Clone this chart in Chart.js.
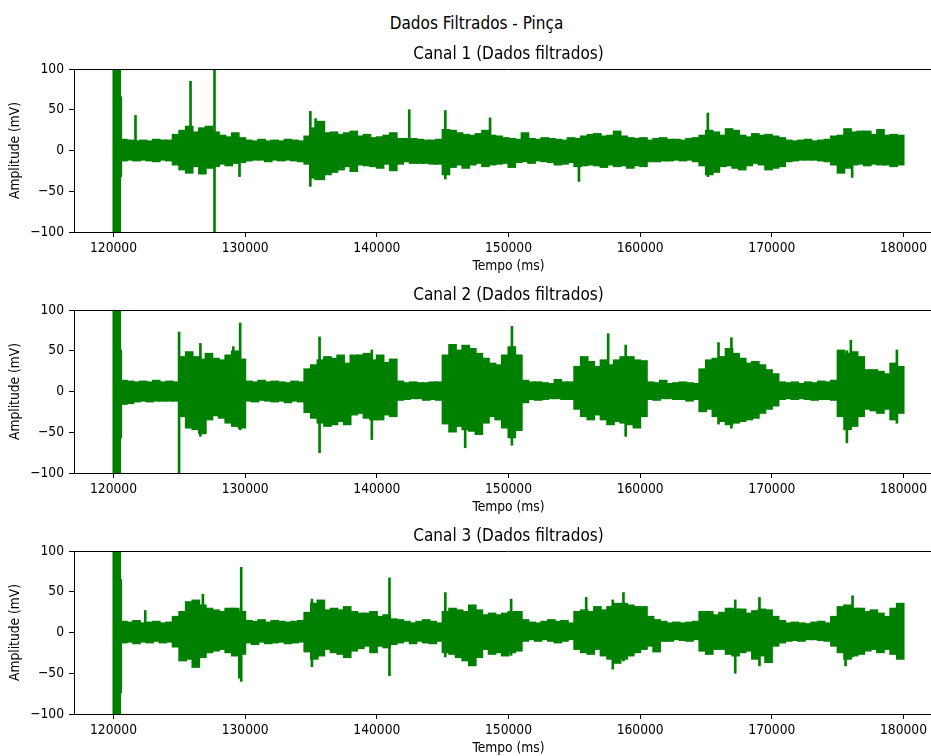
<!DOCTYPE html>
<html lang="pt">
<head>
<meta charset="UTF-8">
<title>Dados Filtrados - Pinça</title>
<script src="https://cdn.jsdelivr.net/npm/chart.js@4.4.0/dist/chart.umd.min.js"></script>
<style>
  html, body { margin: 0; padding: 0; background: #fff; overflow: hidden; }
  #wrap { position: relative; width: 931px; height: 756px; overflow: hidden; }
  #sup { position: absolute; left: 0; top: 13px; width: 953px; text-align: center;
         font: 17px "DejaVu Sans Condensed", "DejaVu Sans"; line-height: 20px; color: #000; }
  canvas { position: absolute; left: 0; }
</style>
</head>
<body>
<div id="wrap">
  <div id="sup">Dados Filtrados - Pinça</div>
  <canvas id="c1" width="943" height="236" style="top:44px"></canvas>
  <canvas id="c2" width="943" height="236" style="top:285px"></canvas>
  <canvas id="c3" width="943" height="236" style="top:526px"></canvas>
</div>
<script>
// envelope of each channel, one max/min pair per 500 ms bin (120000 .. 180000 ms)
var startMs = 120000, binMs = 500;

var ch1Hi = [
  100, 14, 13, 12, 13, 12, 14, 13, 13, 20,
  25, 30, 23, 28, 30, 23, 19, 17, 22, 16,
  13, 12, 14, 12, 13, 12, 14, 13, 12, 18,
  28, 36, 22, 23, 20, 22, 24, 18, 20, 16,
  17, 19, 22, 15, 15, 15, 14, 13, 13, 14,
  26, 25, 22, 20, 19, 21, 25, 19, 18, 16,
  15, 14, 22, 15, 14, 16, 15, 14, 13, 16,
  15, 18, 20, 21, 18, 19, 24, 18, 16, 15,
  16, 13, 15, 16, 14, 14, 13, 15, 16, 19,
  25, 23, 19, 27, 25, 19, 17, 21, 19, 20,
  18, 16, 13, 12, 13, 14, 12, 13, 14, 18,
  19, 27, 23, 24, 24, 20, 26, 19, 20, 19];
var ch1Lo = [
  -100, -13, -12, -13, -12, -13, -14, -12, -13, -18,
  -24, -28, -20, -29, -22, -20, -17, -19, -16, -15,
  -13, -12, -12, -14, -12, -13, -12, -13, -14, -17,
  -34, -36, -30, -27, -24, -20, -26, -18, -19, -20,
  -22, -17, -25, -17, -14, -16, -16, -16, -17, -17,
  -30, -21, -18, -22, -18, -16, -20, -18, -17, -16,
  -21, -15, -14, -16, -13, -14, -15, -18, -17, -15,
  -20, -19, -18, -19, -21, -18, -20, -19, -22, -19,
  -20, -14, -14, -13, -13, -12, -13, -12, -14, -19,
  -30, -27, -20, -19, -22, -24, -19, -16, -18, -24,
  -22, -20, -14, -13, -12, -12, -12, -13, -14, -18,
  -28, -22, -18, -17, -19, -17, -18, -18, -20, -18];

var ch2Hi = [
  100, 14, 13, 12, 13, 12, 14, 12, 13, 12,
  43, 49, 43, 40, 47, 41, 39, 45, 50, 40,
  13, 12, 14, 12, 13, 12, 11, 13, 12, 28,
  33, 39, 43, 41, 45, 35, 45, 45, 47, 39,
  45, 36, 40, 13, 11, 12, 11, 11, 12, 12,
  45, 58, 51, 57, 53, 47, 41, 35, 33, 45,
  55, 45, 14, 12, 12, 11, 10, 15, 12, 12,
  31, 43, 37, 31, 39, 33, 39, 43, 43, 39,
  38, 12, 11, 14, 10, 11, 12, 11, 10, 28,
  39, 41, 43, 53, 47, 41, 35, 37, 33, 27,
  22, 12, 11, 12, 10, 12, 11, 13, 12, 14,
  51, 47, 49, 43, 27, 27, 25, 22, 35, 31];
var ch2Lo = [
  -100, -16, -15, -13, -12, -13, -12, -12, -12, -12,
  -31, -45, -47, -52, -35, -30, -33, -39, -43, -45,
  -12, -13, -11, -12, -13, -12, -14, -12, -13, -26,
  -33, -39, -43, -41, -37, -41, -29, -27, -33, -35,
  -35, -29, -31, -11, -10, -9, -9, -11, -10, -11,
  -40, -50, -43, -47, -49, -53, -39, -31, -35, -45,
  -57, -48, -14, -10, -11, -10, -9, -9, -10, -10,
  -22, -31, -35, -29, -35, -41, -37, -39, -41, -45,
  -31, -10, -11, -9, -9, -10, -10, -12, -10, -25,
  -22, -31, -37, -41, -39, -37, -35, -33, -27, -22,
  -18, -10, -9, -10, -9, -10, -11, -10, -10, -11,
  -31, -47, -43, -31, -22, -24, -27, -22, -35, -27];

var ch3Hi = [
  100, 14, 13, 15, 12, 13, 14, 12, 13, 20,
  26, 38, 40, 34, 30, 28, 26, 30, 30, 26,
  15, 14, 16, 13, 15, 14, 13, 14, 15, 25,
  36, 40, 28, 30, 28, 32, 26, 24, 24, 26,
  20, 22, 17, 16, 14, 12, 14, 16, 14, 12,
  26, 30, 28, 26, 34, 28, 22, 24, 22, 24,
  26, 26, 16, 13, 12, 14, 16, 14, 15, 12,
  26, 28, 26, 32, 28, 32, 36, 36, 34, 32,
  32, 20, 16, 14, 12, 13, 12, 13, 14, 26,
  26, 22, 25, 30, 29, 29, 24, 27, 29, 28,
  20, 15, 12, 13, 12, 11, 13, 14, 12, 20,
  32, 34, 30, 30, 26, 28, 24, 20, 30, 36];
var ch3Lo = [
  -100, -13, -12, -14, -12, -13, -11, -13, -12, -18,
  -35, -33, -43, -31, -25, -23, -21, -25, -29, -27,
  -13, -15, -12, -14, -13, -12, -14, -13, -12, -24,
  -33, -29, -21, -25, -27, -31, -23, -20, -17, -25,
  -17, -19, -15, -13, -11, -14, -11, -13, -14, -11,
  -25, -27, -31, -35, -41, -31, -21, -27, -25, -29,
  -25, -23, -11, -9, -11, -9, -11, -13, -11, -9,
  -21, -25, -27, -21, -29, -33, -38, -33, -29, -25,
  -21, -17, -24, -11, -11, -9, -10, -11, -9, -23,
  -27, -21, -21, -27, -29, -25, -23, -33, -29, -37,
  -17, -13, -11, -10, -11, -9, -9, -10, -11, -17,
  -25, -33, -29, -27, -23, -21, -25, -21, -27, -33];

// narrow spikes (time ms, top, bottom)
var ch1SpikeT  = [120550, 121670, 125850, 127670, 129570, 134950, 135350, 142460, 145200, 148600, 155350, 165140, 176100];
var ch1SpikeHi = [66, 43, 85, 100, 10, 48, 39, 50, 49, 40, 10, 46, 5];
var ch1SpikeLo = [-32, -5, -10, -100, -32, -44, -36, -5, -35, -5, -38, -32, -33];

var ch2SpikeT  = [120550, 124980, 126600, 129100, 129620, 135650, 139620, 146710, 150260, 157570, 158900, 165950, 166930, 175700, 176000, 179500];
var ch2SpikeHi = [51, 73, 59, 55, 84, 67, 51, 25, 80, 71, 57, 60, 66, 50, 63, 51];
var ch2SpikeLo = [-57, -100, -55, -40, -47, -75, -59, -69, -66, -30, -55, -40, -45, -63, -40, -39];

var ch3SpikeT  = [120550, 122410, 126790, 129550, 129700, 135070, 140960, 145200, 150200, 155900, 157920, 158730, 167220, 169060, 175600, 176130];
var ch3SpikeHi = [65, 27, 47, 20, 80, 41, 67, 49, 41, 43, 40, 49, 40, 43, 30, 45];
var ch3SpikeLo = [-74, -5, -30, -56, -60, -42, -53, -30, -28, -20, -45, -35, -50, -41, -41, -30];

var xTicks = [120000, 130000, 140000, 150000, 160000, 170000, 180000];
var yTicks = [-100, -50, 0, 50, 100];

var green = '#008000';
var fam = "'DejaVu Sans Condensed', 'DejaVu Sans'";
var tickFont = {family: fam, size: 13.7};

// matplotlib draws the top spine too
var topSpine = {
  id: 'topSpine',
  afterDatasetsDraw: function(c) {
    var a = c.chartArea, ctx = c.ctx;
    ctx.save();
    ctx.strokeStyle = '#000';
    ctx.lineWidth = 1;
    ctx.beginPath();
    ctx.moveTo(a.left, Math.round(a.top) + 0.5);
    ctx.lineTo(a.right, Math.round(a.top) + 0.5);
    ctx.stroke();
    ctx.restore();
  }
};

function yLabel(v) {
  return v < 0 ? '\u2212' + Math.abs(v) : String(v);
}

function makeChart(id, title, hi, lo, spT, spHi, spLo) {
  var band = hi.map(function(h, i) {
    return {x: startMs + binMs * (i + 0.5), y: [lo[i], h]};
  });
  var spikes = spT.map(function(t, i) {
    return {x: t, y: [spLo[i], spHi[i]]};
  });

  return new Chart(document.getElementById(id), {
    type: 'bar',
    data: {
      datasets: [
        {data: band, backgroundColor: green, borderWidth: 0, barThickness: 8, grouped: false},
        {data: spikes, backgroundColor: green, borderWidth: 0, barThickness: 2, grouped: false}
      ]
    },
    options: {
      responsive: false,
      animation: false,
      devicePixelRatio: 1,
      layout: {padding: 0},
      plugins: {
        legend: {display: false},
        tooltip: {enabled: false},
        title: {
          display: true, text: title, fullSize: false, color: '#000',
          font: {family: fam, size: 17, weight: 'normal'},
          padding: {top: 0, bottom: 4.6}
        }
      },
      scales: {
        x: {
          type: 'linear', min: 117000, max: 183000, offset: false,
          afterBuildTicks: function(s) { s.ticks = xTicks.map(function(v) { return {value: v}; }); },
          afterFit: function(s) { s.height = 48; },
          ticks: {callback: function(v) { return String(v); }, font: tickFont, color: '#000',
                  padding: 3, maxRotation: 0, autoSkip: false},
          grid: {drawOnChartArea: false, drawTicks: true, tickLength: 5, color: '#000', offset: false},
          border: {display: true, color: '#000', width: 1},
          title: {display: true, text: 'Tempo (ms)', font: tickFont, color: '#000',
                  padding: {top: 0, bottom: 5}}
        },
        y: {
          type: 'linear', min: -100, max: 100,
          afterBuildTicks: function(s) { s.ticks = yTicks.map(function(v) { return {value: v}; }); },
          afterFit: function(s) { s.width = 74; },
          ticks: {callback: yLabel, font: tickFont, color: '#000', padding: 5},
          grid: {drawOnChartArea: false, drawTicks: true, tickLength: 5, color: '#000'},
          border: {display: true, color: '#000', width: 1},
          title: {display: true, text: 'Amplitude (mV)', font: tickFont, color: '#000',
                  padding: {top: 7.5, bottom: 0}}
        }
      }
    },
    plugins: [topSpine]
  });
}

makeChart('c1', 'Canal 1 (Dados filtrados)', ch1Hi, ch1Lo, ch1SpikeT, ch1SpikeHi, ch1SpikeLo);
makeChart('c2', 'Canal 2 (Dados filtrados)', ch2Hi, ch2Lo, ch2SpikeT, ch2SpikeHi, ch2SpikeLo);
makeChart('c3', 'Canal 3 (Dados filtrados)', ch3Hi, ch3Lo, ch3SpikeT, ch3SpikeHi, ch3SpikeLo);
</script>
</body>
</html>
